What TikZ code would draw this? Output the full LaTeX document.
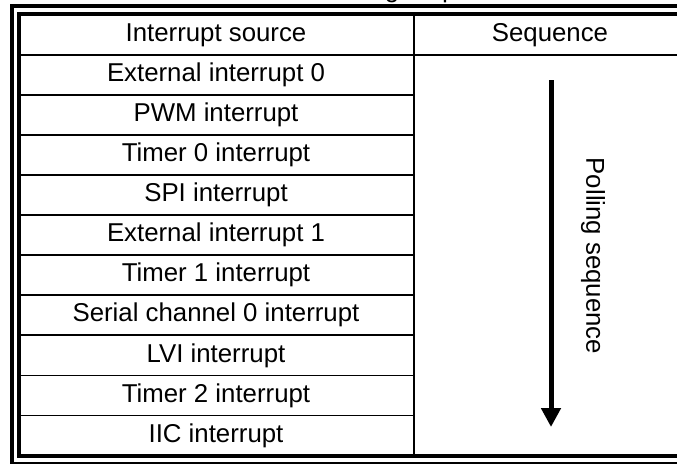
\documentclass[tikz,border=0pt]{standalone}
\usepackage{fontspec}
\setmainfont{Liberation Sans}
\usetikzlibrary{arrows.meta}
\begin{document}
\begin{tikzpicture}[x=1pt,y=-1pt,
  txt/.style={font=\fontsize{25.8}{30}\selectfont, inner sep=0pt, anchor=center},
  thickrule/.style={line width=4pt},
  thinrule/.style={line width=1.8pt},
  flow/.style={line width=5pt, -{Triangle[width=19pt,length=19pt]}}]
\useasboundingbox (0,0) rectangle (677,464);
\clip (0,0) rectangle (677,464);
% partly hidden caption above the table
\node[txt, anchor=base] (cap) at (420,-2.5) {Polling sequence};
% outer frame
\draw[thickrule] (700,6) -- (12,6) -- (12,463);
\draw[line width=1.2pt] (10,463) -- (700,463);
% inner frame
\draw[thickrule] (700,14) -- (19,14) -- (19,455.5) -- (700,455.5);
% grid
\draw[thinrule] (19,55) -- (700,55);
\draw[thinrule] (414,14) -- (414,455.5);
\foreach \i in {1,...,9} {
  \draw[thinrule] (19,{55+40.05*\i}) -- (414,{55+40.05*\i});
}
% header
\node[txt] (hsrc) at (216,35) {Interrupt source};
\node[txt] (hseq) at (550,35) {Sequence};
% rows
\foreach \t [count=\i] in {External interrupt 0, PWM interrupt, Timer 0 interrupt,
  SPI interrupt, External interrupt 1, Timer 1 interrupt,
  Serial channel 0 interrupt, LVI interrupt, Timer 2 interrupt, IIC interrupt} {
  \node[txt] (r\i) at (216,{75+40.05*(\i-1)}) {\t};
}
% polling arrow
\coordinate (atop) at (551,80);
\coordinate (abot) at (551,427);
\draw[flow] (atop) -- (abot);
\node[txt, rotate=-90] (plab) at (593,256) {Polling sequence};
\end{tikzpicture}
\end{document}
